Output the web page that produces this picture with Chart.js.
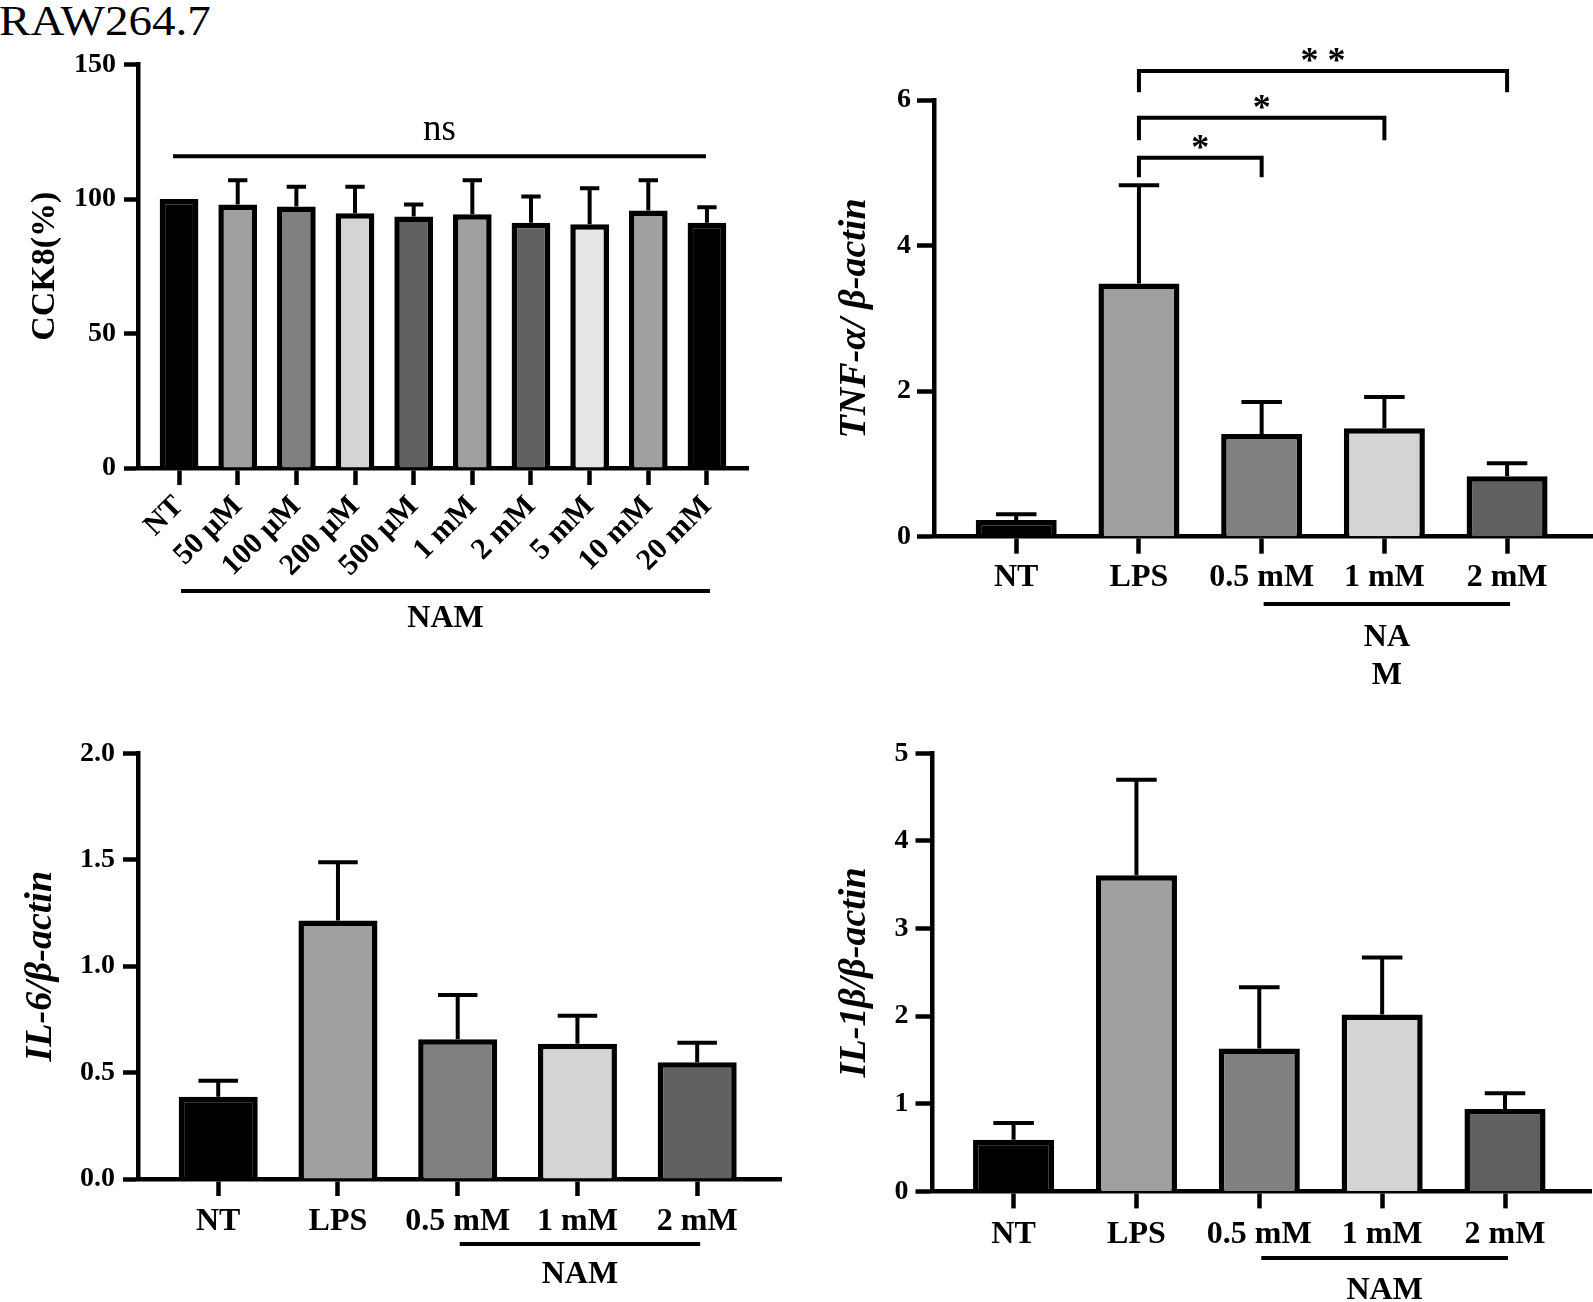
<!DOCTYPE html>
<html>
<head>
<meta charset="utf-8">
<script src="https://cdn.jsdelivr.net/npm/chart.js@4.4.1/dist/chart.umd.min.js"></script>
<style>
  body { margin: 0; background: #fff; overflow: hidden; width: 1593px; height: 1302px; position: relative; }
  canvas { position: absolute; }
  #title { position: absolute; left: -1px; top: 0; font: 42px/42px 'Liberation Serif', 'Times New Roman', serif; color: #000; white-space: nowrap; transform: scaleX(1.12); transform-origin: left top; }
</style>
</head>
<body>
<div id="title">RAW264.7</div>
<canvas id="cck" width="760" height="660" style="left:0;top:0"></canvas>
<canvas id="tnf" width="793" height="700" style="left:800px;top:0"></canvas>
<canvas id="il6" width="800" height="602" style="left:0;top:700px"></canvas>
<canvas id="il1b" width="793" height="602" style="left:800px;top:700px"></canvas>
<script>
const FONT = "'Liberation Serif', 'Times New Roman', serif";

// ---------------- CCK8 viability ----------------
const cckLabels = ["NT", "50 μM", "100 μM", "200 μM", "500 μM", "1 mM", "2 mM", "5 mM", "10 mM", "20 mM"];
const cckMeans = [100, 98.0, 97.2, 94.7, 93.5, 94.3, 91.2, 90.6, 95.7, 91.2];
const cckSD = [0, 9.0, 7.4, 9.9, 4.5, 12.7, 9.7, 13.4, 11.3, 5.7];
const cckColors = ["#000000", "#a0a0a0", "#808080", "#d4d4d4", "#606060", "#a0a0a0", "#606060", "#e6e6e6", "#a0a0a0", "#000000"];
const cckTicks = [0, 50, 100, 150];
const cckNsLevel = 115.9;

// ---------------- qPCR ----------------
const geneLabels = ["NT", "LPS", "0.5 mM", "1 mM", "2 mM"];
const geneColors = ["#000000", "#a0a0a0", "#808080", "#d4d4d4", "#606060"];

const tnfMeans = [0.23, 3.48, 1.41, 1.49, 0.83];
const tnfSD = [0.08, 1.35, 0.44, 0.43, 0.18];
const tnfTicks = [0, 2, 4, 6];
const bracketFrom = [1, 1, 1];
const bracketTo = [2, 3, 4];
const bracketLevel = [5.21, 5.76, 6.40];
const bracketLeg = [4.94, 5.45, 6.11];
const bracketText = ["*", "*", "* *"];

const il6Means = [0.387, 1.215, 0.657, 0.636, 0.549];
const il6SD = [0.075, 0.274, 0.208, 0.131, 0.091];
const il6Ticks = [0, 0.5, 1.0, 1.5, 2.0];

const il1bMeans = [0.59, 3.61, 1.63, 2.02, 0.94];
const il1bSD = [0.19, 1.09, 0.70, 0.65, 0.18];
const il1bTicks = [0, 1, 2, 3, 4, 5];

function makeChart(id, c) {
  const extras = {
    id: "extras",
    afterDatasetsDraw(chart) {
      const { ctx } = chart;
      const ys = chart.scales.y;
      const meta = chart.getDatasetMeta(0);
      ctx.save();
      ctx.strokeStyle = "#000";
      ctx.lineWidth = 4;
      c.means.forEach((m, i) => {
        if (!c.sd[i]) return;
        const bar = meta.data[i];
        const y0 = ys.getPixelForValue(m);
        const y1 = ys.getPixelForValue(m + c.sd[i]);
        const cap = bar.width / 4;
        ctx.beginPath();
        ctx.moveTo(bar.x, y0);
        ctx.lineTo(bar.x, y1);
        ctx.moveTo(bar.x - cap, y1);
        ctx.lineTo(bar.x + cap, y1);
        ctx.stroke();
      });
      ctx.restore();
    },
    afterDraw(chart) {
      const { ctx, chartArea } = chart;
      const xs = chart.scales.x, ys = chart.scales.y;
      ctx.save();
      ctx.strokeStyle = "#000";
      ctx.fillStyle = "#000";
      ctx.lineWidth = 4;
      ctx.textAlign = "center";
      ctx.textBaseline = "alphabetic";

      // ns line
      if (c.ns) {
        const yp = ys.getPixelForValue(c.ns.level);
        const x0 = xs.getPixelForValue(0) - 6;
        const x1 = xs.getPixelForValue(c.labels.length - 1) - 1;
        ctx.beginPath();
        ctx.moveTo(x0, yp);
        ctx.lineTo(x1, yp);
        ctx.stroke();
        ctx.font = "37px " + FONT;
        ctx.fillText("ns", (x0 + x1) / 2, yp - 16);
      }

      // significance brackets
      if (c.brackets) {
        const b = c.brackets;
        ctx.font = "bold 36px " + FONT;
        b.from.forEach((f, i) => {
          const x0 = xs.getPixelForValue(f);
          const x1 = xs.getPixelForValue(b.to[i]);
          const yb = ys.getPixelForValue(b.level[i]);
          const yl = ys.getPixelForValue(b.leg[i]);
          ctx.beginPath();
          ctx.moveTo(x0, yl);
          ctx.lineTo(x0, yb);
          ctx.lineTo(x1, yb);
          ctx.lineTo(x1, yl);
          ctx.stroke();
          ctx.fillText(b.text[i], (x0 + x1) / 2, yb + 1);
        });
      }

      // group underline + label
      const g = c.group;
      const gx0 = xs.getPixelForValue(g.from) + 2;
      const gx1 = xs.getPixelForValue(g.to) + 3;
      const gy = chartArea.bottom + g.lineOffset;
      ctx.beginPath();
      ctx.moveTo(gx0, gy);
      ctx.lineTo(gx1, gy);
      ctx.stroke();
      ctx.font = "bold 32px " + FONT;
      g.text.forEach((t, i) => {
        ctx.fillText(t, (gx0 + gx1) / 2, chartArea.bottom + g.textOffset[i] + 10.5);
      });
      ctx.restore();
    }
  };

  return new Chart(document.getElementById(id), {
    type: "bar",
    data: {
      datasets: [{
        data: c.means.map((v, i) => ({ x: i, y: v })),
        backgroundColor: c.colors,
        borderColor: "#000",
        borderWidth: 5.5,
        barPercentage: 0.66,
        categoryPercentage: 1
      }]
    },
    options: {
      responsive: false,
      animation: false,
      layout: { padding: c.pad },
      plugins: { legend: { display: false }, tooltip: { enabled: false } },
      scales: {
        x: {
          type: "linear",
          min: c.xMin,
          max: c.labels.length - 0.3,
          offset: false,
          afterBuildTicks: (s) => { s.ticks = c.labels.map((_, i) => ({ value: i })); },
          afterFit: (s) => { s.height = c.xHeight; },
          ticks: {
            autoSkip: false,
            minRotation: c.rot,
            maxRotation: c.rot,
            padding: c.xPad,
            color: "#000",
            font: { family: FONT, size: c.xFont, weight: "bold" },
            callback: (v, i) => c.labels[i]
          },
          grid: { offset: false, drawOnChartArea: false, tickLength: 17, tickWidth: 4.5, tickColor: "#000" },
          border: { color: "#000", width: 4.5 }
        },
        y: {
          min: c.yTicks[0],
          max: c.yTicks[c.yTicks.length - 1],
          afterBuildTicks: (s) => { s.ticks = c.yTicks.map((v) => ({ value: v })); },
          afterFit: (s) => { s.width = c.yWidth; },
          ticks: {
            padding: c.yPad,
            color: "#000",
            font: { family: FONT, size: 28, weight: "bold" },
            callback: (v) => (c.decimals ? v.toFixed(1) : String(v))
          },
          grid: { drawOnChartArea: false, tickLength: c.yTickLen, tickWidth: 4.5, tickColor: "#000" },
          border: { color: "#000", width: 4.5 },
          title: {
            display: true,
            text: c.yTitle,
            color: "#000",
            padding: { top: c.titlePad, bottom: 0 },
            font: { family: FONT, size: c.titleSize, weight: "bold", style: c.italic ? "italic" : "normal" }
          }
        }
      }
    },
    plugins: [extras]
  });
}

makeChart("cck", {
  labels: cckLabels, means: cckMeans, sd: cckSD, colors: cckColors, yTicks: cckTicks,
  yTitle: "CCK8(%)", italic: false, decimals: false, titleSize: 34,
  xMin: -0.7, rot: 45, xFont: 30, xPad: 4, yTickLen: 14, yPad: 8,
  pad: { left: 0, top: 64.5, right: 12, bottom: 0 }, yWidth: 138, xHeight: 192, titlePad: 25,
  ns: { level: cckNsLevel },
  group: { from: 0, to: 9, text: ["NAM"], lineOffset: 123, textOffset: [148] }
});

makeChart("tnf", {
  labels: geneLabels, means: tnfMeans, sd: tnfSD, colors: geneColors, yTicks: tnfTicks,
  yTitle: "TNF-α/ β-actin", italic: true, decimals: false, titleSize: 38,
  xMin: -0.67, rot: 0, xFont: 32, xPad: 5, yTickLen: 17, yPad: 6,
  pad: { left: 0, top: 100.2, right: 0, bottom: 0 }, yWidth: 134, xHeight: 163.3, titlePad: 32.6,
  brackets: { from: bracketFrom, to: bracketTo, level: bracketLevel, leg: bracketLeg, text: bracketText },
  group: { from: 2, to: 4, text: ["NA", "M"], lineOffset: 67.3, textOffset: [98.8, 136.3] }
});

makeChart("il6", {
  labels: geneLabels, means: il6Means, sd: il6SD, colors: geneColors, yTicks: il6Ticks,
  yTitle: "IL-6/β-actin", italic: true, decimals: true, titleSize: 38,
  xMin: -0.67, rot: 0, xFont: 32, xPad: 7, yTickLen: 15, yPad: 8,
  pad: { left: 0, top: 53.4, right: 19, bottom: 0 }, yWidth: 138, xHeight: 123, titlePad: 18.6,
  group: { from: 2, to: 4, text: ["NAM"], lineOffset: 65, textOffset: [93] }
});

makeChart("il1b", {
  labels: geneLabels, means: il1bMeans, sd: il1bSD, colors: geneColors, yTicks: il1bTicks,
  yTitle: "IL-1β/β-actin", italic: true, decimals: false, titleSize: 38,
  xMin: -0.66, rot: 0, xFont: 32, xPad: 7, yTickLen: 17, yPad: 7,
  pad: { left: 0, top: 53.4, right: 2, bottom: 0 }, yWidth: 132.5, xHeight: 110.6, titlePad: 32.6,
  group: { from: 2, to: 4, text: ["NAM"], lineOffset: 66.6, textOffset: [96.6] }
});
</script>
</body>
</html>
